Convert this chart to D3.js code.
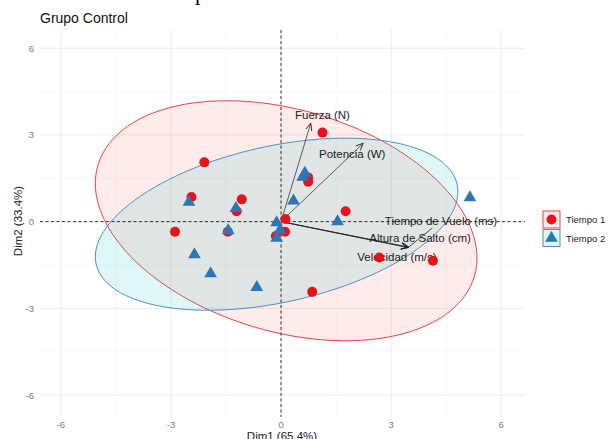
<!DOCTYPE html>
<html>
<head>
<meta charset="utf-8">
<script src="https://cdn.jsdelivr.net/npm/d3@7"></script>
<style>
    body { margin: 0; background: #fff; }
    svg { display: block; font-family: "Liberation Sans", Arial, sans-serif; }
    .grid-major { stroke: #ebebeb; stroke-width: 1; }
    .grid-minor { stroke: #f4f4f4; stroke-width: 0.6; }
    .tick-label { fill: #7a7a7a; font-size: 9.5px; }
    .var-label { fill: #222; font-size: 11.5px; }
</style>
</head>
<body>
<script>
//chart data
var groups = ["Tiempo 1", "Tiempo 2"];
var groupColors = ["#e8121b", "#2e75b6"];

//individuals, Tiempo 1 (circles)
var t1X = [1.13, -2.09, -2.44, -1.07, 0.74, 0.74, 1.76, -2.89, -1.45, 0.12, 0.11, -0.14, 2.68, 4.14, 0.85, -1.21];
var t1Y = [3.08, 2.05, 0.85, 0.77, 1.53, 1.38, 0.36, -0.35, -0.35, 0.09, -0.35, -0.50, -1.24, -1.35, -2.43, 0.36];

//individuals, Tiempo 2 (triangles)
var t2X = [0.65, 0.59, 0.34, 1.54, 5.15, -2.51, -1.23, -1.44, -2.36, -1.92, -0.66, -0.12, -0.03, -0.12];
var t2Y = [1.68, 1.54, 0.72, 0.00, 0.83, 0.68, 0.46, -0.31, -1.14, -1.80, -2.27, -0.03, -0.29, -0.57];

//variable arrows (tip coordinates) and their repelled label positions
var varNames = ["Fuerza (N)", "Potencia (W)", "Tiempo de Vuelo (ms)", "Altura de Salto (cm)", "Velocidad (m/s)"];
var varX = [0.81, 2.24, 3.48, 3.47, 3.46];
var varY = [3.40, 2.71, -0.88, -0.89, -0.90];
var labelX = [1.13, 1.94, 4.36, 3.79, 3.16];
var labelY = [3.69, 2.34, 0.02, -0.58, -1.24];

//concentration ellipses per group (centre, semi-axes, angle in degrees)
var ellCx = [0.14, -0.12];
var ellCy = [0.03, -0.09];
var ellRx = [5.52, 5.12];
var ellRy = [3.72, 2.66];
var ellAngle = [-26.9, 17.8];

//axis ticks
var majorTicks = [-6, -3, 0, 3, 6];
var minorTicks = [-4.5, -1.5, 1.5, 4.5];

var width = 613, height = 439;
var panel = {left: 40, right: 525, top: 30, bottom: 417};

var svg = d3.select("body")
    .append("svg")
    .attr("width", width)
    .attr("height", height);

var x = d3.scaleLinear().domain([-6.57, 6.65]).range([panel.left, panel.right]);
var y = d3.scaleLinear().domain([-6.76, 6.63]).range([panel.bottom, panel.top]);

//fragment of the page text above the figure
svg.append("text")
    .attr("x", 195)
    .attr("y", 0)
    .style("font-family", "'Liberation Serif', serif")
    .style("font-size", "22px")
    .attr("fill", "#000")
    .text("p");

//gridlines
svg.selectAll(".gxm").data(minorTicks).enter().append("line")
    .attr("class", "grid-minor")
    .attr("x1", function(d){ return x(d); }).attr("x2", function(d){ return x(d); })
    .attr("y1", panel.top).attr("y2", panel.bottom);
svg.selectAll(".gym").data(minorTicks).enter().append("line")
    .attr("class", "grid-minor")
    .attr("y1", function(d){ return y(d); }).attr("y2", function(d){ return y(d); })
    .attr("x1", panel.left).attr("x2", panel.right);
svg.selectAll(".gx").data(majorTicks).enter().append("line")
    .attr("class", "grid-major")
    .attr("x1", function(d){ return x(d); }).attr("x2", function(d){ return x(d); })
    .attr("y1", panel.top).attr("y2", panel.bottom);
svg.selectAll(".gy").data(majorTicks).enter().append("line")
    .attr("class", "grid-major")
    .attr("y1", function(d){ return y(d); }).attr("y2", function(d){ return y(d); })
    .attr("x1", panel.left).attr("x2", panel.right);

//tick labels
svg.selectAll(".xt").data(majorTicks).enter().append("text")
    .attr("class", "tick-label")
    .attr("x", function(d){ return x(d); })
    .attr("y", 427.5)
    .attr("text-anchor", "middle")
    .text(function(d){ return d; });
svg.selectAll(".yt").data(majorTicks).enter().append("text")
    .attr("class", "tick-label")
    .attr("x", 34)
    .attr("y", function(d){ return y(d) + 3.5; })
    .attr("text-anchor", "end")
    .text(function(d){ return d; });

//ellipses
var ellFills = ["#f8766d", "#00bfc4"];
var ellStroke = ["#e8434b", "#4f8fc6"];
function ellipsePoints(i){
    var pts = [], phi = ellAngle[i] * Math.PI / 180;
    for (var k = 0; k <= 120; k++){
        var t = k / 120 * 2 * Math.PI;
        var ex = ellCx[i] + ellRx[i] * Math.cos(t) * Math.cos(phi) - ellRy[i] * Math.sin(t) * Math.sin(phi);
        var ey = ellCy[i] + ellRx[i] * Math.cos(t) * Math.sin(phi) + ellRy[i] * Math.sin(t) * Math.cos(phi);
        pts.push([x(ex), y(ey)]);
    }
    return pts;
}
var line = d3.line();
groups.forEach(function(g, i){
    svg.append("path")
        .attr("d", line(ellipsePoints(i)) + "Z")
        .attr("fill", ellFills[i])
        .attr("fill-opacity", i == 0 ? 0.14 : 0.12)
        .attr("stroke", ellStroke[i])
        .attr("stroke-width", 1);
});

//dashed zero lines
svg.append("line")
    .attr("x1", panel.left).attr("x2", panel.right)
    .attr("y1", y(0)).attr("y2", y(0))
    .attr("stroke", "#333").attr("stroke-width", 1).attr("stroke-dasharray", "3,2.5");
svg.append("line")
    .attr("x1", x(0)).attr("x2", x(0))
    .attr("y1", panel.top).attr("y2", panel.bottom)
    .attr("stroke", "#333").attr("stroke-width", 1).attr("stroke-dasharray", "3,2.5");

//arrowhead marker
svg.append("defs").append("marker")
    .attr("id", "arrow")
    .attr("viewBox", "0 0 10 10")
    .attr("refX", 9).attr("refY", 5)
    .attr("markerWidth", 8).attr("markerHeight", 8)
    .attr("markerUnits", "userSpaceOnUse")
    .attr("orient", "auto")
    .append("path")
    .attr("d", "M0,1 L9,5 L0,9")
    .attr("fill", "none")
    .attr("stroke", "#222")
    .attr("stroke-width", 1.1);

//variable arrows
svg.selectAll(".arrow").data(varNames).enter().append("line")
    .attr("x1", x(0)).attr("y1", y(0))
    .attr("x2", function(d, i){ return x(varX[i]); })
    .attr("y2", function(d, i){ return y(varY[i]); })
    .attr("stroke", "#222").attr("stroke-width", 0.7)
    .attr("marker-end", "url(#arrow)");

//repel segment for the label that was pushed away from its arrow
var ti = 2;
var sx = x(varX[ti]), sy = y(varY[ti]), lx = x(labelX[ti]), ly = y(labelY[ti]);
var frac = 1 - 7 / (sy - ly);
svg.append("line")
    .attr("x1", sx).attr("y1", sy)
    .attr("x2", sx + (lx - sx) * frac).attr("y2", sy + (ly - sy) * frac)
    .attr("stroke", "#222").attr("stroke-width", 0.8);

//variable labels
svg.selectAll(".var-label").data(varNames).enter().append("text")
    .attr("class", "var-label")
    .attr("x", function(d, i){ return x(labelX[i]); })
    .attr("y", function(d, i){ return y(labelY[i]) + 4; })
    .attr("text-anchor", "middle")
    .text(function(d){ return d; });

//individuals
svg.selectAll(".t1").data(t1X).enter().append("circle")
    .attr("cx", function(d){ return x(d); })
    .attr("cy", function(d, i){ return y(t1Y[i]); })
    .attr("r", 5)
    .attr("fill", groupColors[0]);

var tri = d3.symbol().type(d3.symbolTriangle).size(70);
svg.selectAll(".t2").data(t2X).enter().append("path")
    .attr("d", tri)
    .attr("transform", function(d, i){ return "translate(" + x(d) + "," + y(t2Y[i]) + ")"; })
    .attr("fill", groupColors[1]);

//title and axis titles
svg.append("text")
    .attr("x", 40).attr("y", 23)
    .style("font-size", "14px").attr("fill", "#111")
    .text("Grupo Control");
svg.append("text")
    .attr("x", 282).attr("y", 439.5)
    .attr("text-anchor", "middle")
    .style("font-size", "11.5px").attr("fill", "#222")
    .text("Dim1 (65.4%)");
svg.append("text")
    .attr("transform", "translate(22,221) rotate(-90)")
    .attr("text-anchor", "middle")
    .style("font-size", "11.5px").attr("fill", "#222")
    .text("Dim2 (33.4%)");

//legend
var legend = svg.selectAll(".legend").data(groups).enter().append("g")
    .attr("transform", function(d, i){ return "translate(543," + (211 + i * 18.5) + ")"; });
legend.append("rect")
    .attr("width", 17).attr("height", 17)
    .attr("fill", function(d, i){ return ellFills[i]; })
    .attr("fill-opacity", 0.14)
    .attr("stroke", function(d, i){ return ellStroke[i]; })
    .attr("stroke-width", 1);
legend.append("path")
    .attr("d", function(d, i){
        return d3.symbol().type(i == 0 ? d3.symbolCircle : d3.symbolTriangle).size(i == 0 ? 78 : 70)();
    })
    .attr("transform", "translate(8.5,8.5)")
    .attr("fill", function(d, i){ return groupColors[i]; });
legend.append("text")
    .attr("x", 23).attr("y", 12)
    .style("font-size", "9.5px").attr("fill", "#222")
    .text(function(d){ return d; });
</script>
</body>
</html>
